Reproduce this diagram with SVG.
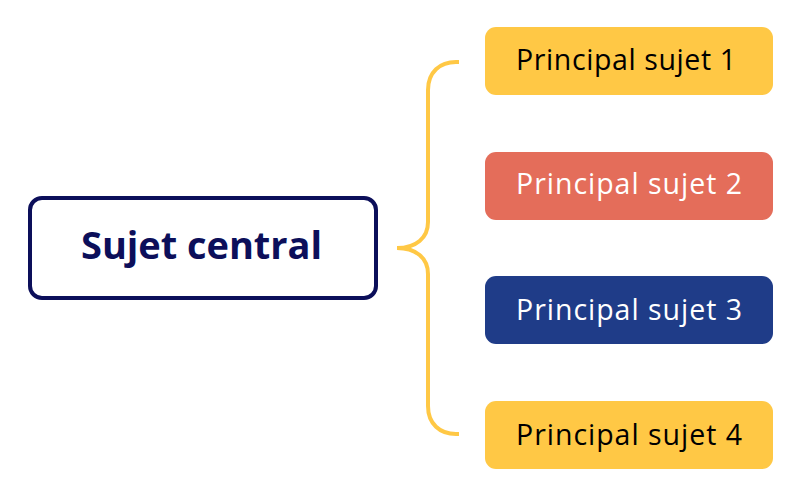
<svg xmlns="http://www.w3.org/2000/svg" width="800" height="495" viewBox="0 0 800 495">
<style>
.sub{font-family:"Open Sans","Noto Sans",sans-serif;font-size:28.5px;text-anchor:start}
.dark{fill:#000000}
.light{fill:#ffffff}
</style>
<rect width="800" height="495" fill="#ffffff"/>
<g id="connectors">
<path d="M459,62 H456 C440,62 428,72 428,90 V222 C428,238 416,248 397,248 C416,248 428,258 428,274 V406 C428,424 440,434 456,434 H459" fill="none" stroke="#FFC845" stroke-width="4"/>
</g>
<g id="central">
<rect x="30" y="198" width="346" height="100" rx="12" fill="#ffffff" stroke="#0C0F5A" stroke-width="4"/>
<text x="81" y="259" font-family="Open Sans, Noto Sans, sans-serif" font-size="38" font-weight="700" fill="#0C0F5A" textLength="241">Sujet central</text>
</g>
<g id="sujet1">
<rect x="485" y="27" width="288" height="68" rx="11" fill="#FFC845"/>
<text x="516" y="70" class="sub dark" textLength="220">Principal sujet 1</text>
</g>
<g id="sujet2">
<rect x="485" y="152" width="288" height="68" rx="11" fill="#E46D5A"/>
<text x="516" y="194" class="sub light" textLength="226">Principal sujet 2</text>
</g>
<g id="sujet3">
<rect x="485" y="276" width="288" height="68" rx="11" fill="#1F3C88"/>
<text x="516" y="320" class="sub light" textLength="226">Principal sujet 3</text>
</g>
<g id="sujet4">
<rect x="485" y="401" width="288" height="68" rx="11" fill="#FFC845"/>
<text x="516" y="445" class="sub dark" textLength="226">Principal sujet 4</text>
</g>
</svg>
